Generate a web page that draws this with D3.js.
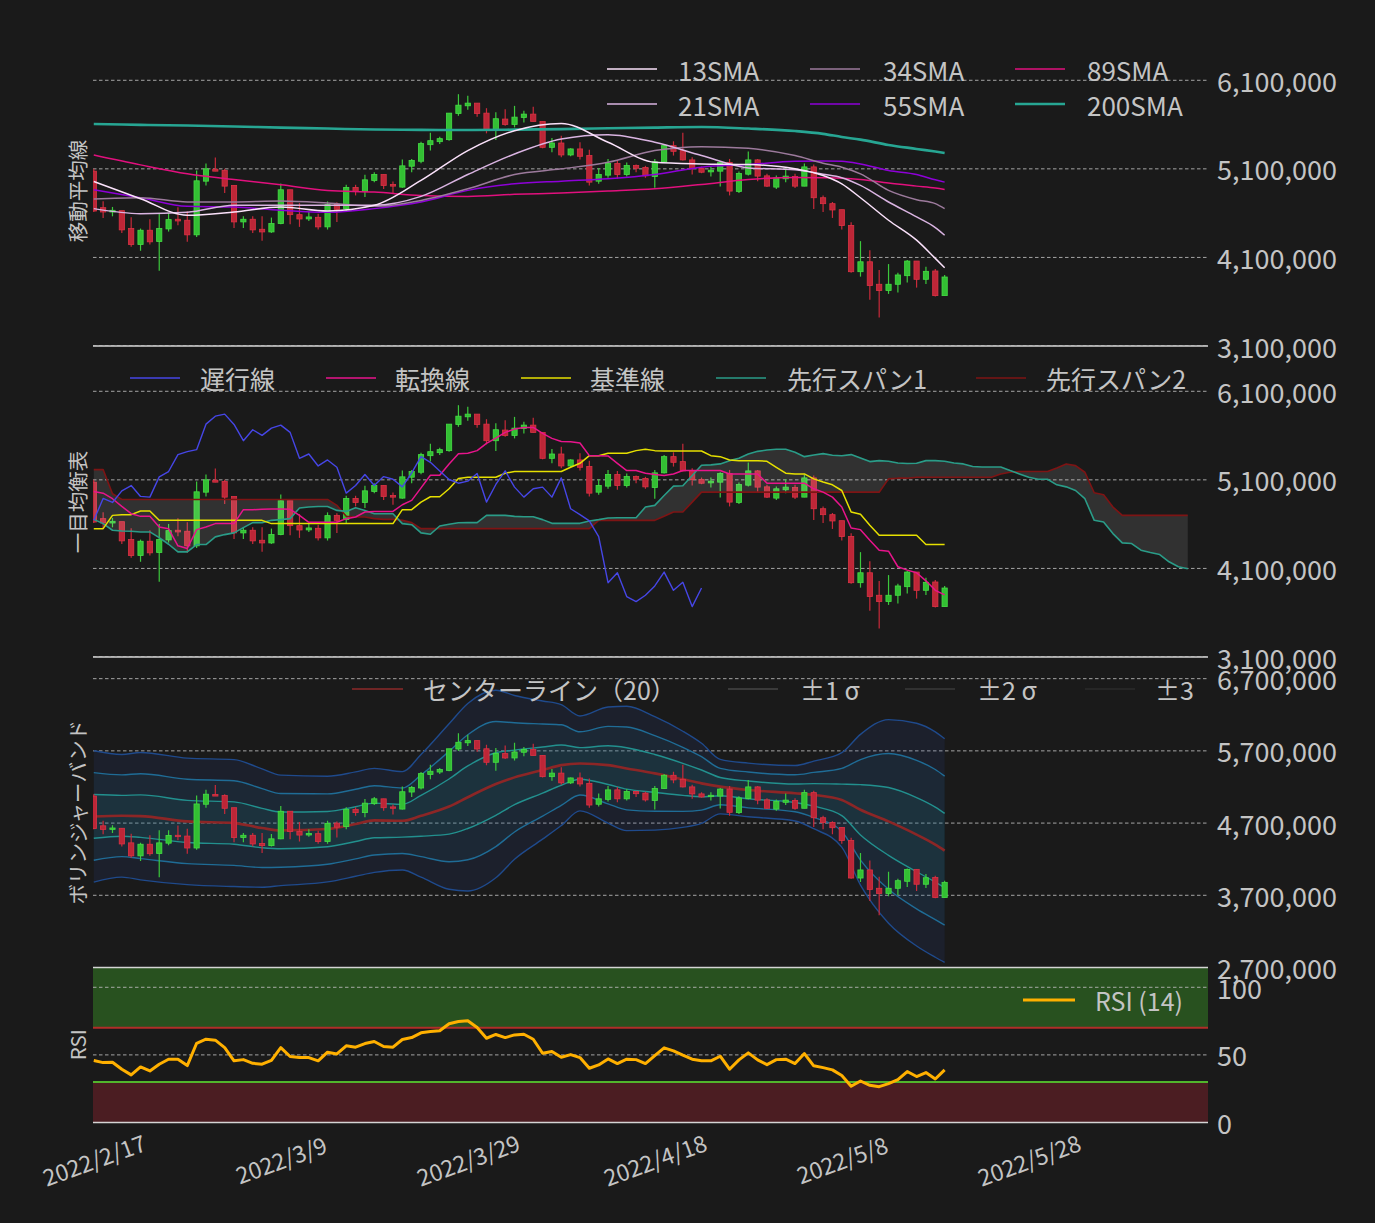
<!DOCTYPE html>
<html><head><meta charset="utf-8">
<script src="https://cdn.jsdelivr.net/npm/d3@7"></script>
<style>
html,body{margin:0;padding:0;background:#1a1a1a;}
svg{display:block;}
text{font-family:"Noto Sans CJK JP","Noto Sans",sans-serif;fill:#c4c4c4;}
</style></head><body>
<svg id="chart" width="1375" height="1223"></svg>
<script>
// ---------------- DATA (prices in thousand JPY) ----------------
const startDate = "2022/2/17";
const xTickLabels = ["2022/2/17","2022/3/9","2022/3/29","2022/4/18","2022/5/8","2022/5/28"];
const priceTicks12 = [3100,4100,5100,6100];
const priceTicks3 = [2700,3700,4700,5700,6700];
const rsiTicks = [0,50,100];

const open  = [5074,4662,4613,4628,4426,4246,4407,4280,4422,4531,4520,4355,4961,5096,5081,4913,4501,4531,4418,4388,4482,4864,4583,4535,4553,4445,4699,4651,4890,4845,4969,5036,4924,4894,5130,5186,5373,5407,5430,5726,5812,5842,5729,5542,5662,5602,5681,5718,5636,5343,5392,5257,5325,5250,4961,5029,5160,5036,5137,5115,5014,5179,5362,5306,5201,5104,5066,5074,5171,4845,5040,5201,5021,4894,4988,5014,4905,5122,4774,4707,4639,4460,3939,4051,3797,3726,3797,3894,4059,3853,3947,3669];
const high  = [5100,4733,4670,4628,4553,4426,4531,4602,4602,4666,4621,5081,5160,5227,5100,4913,4564,4564,4564,4550,4935,4864,4714,4613,4594,4733,4722,4920,4920,5033,5062,5036,4958,5205,5212,5407,5508,5463,5729,5943,5924,5842,5785,5740,5774,5811,5755,5800,5636,5448,5474,5332,5400,5317,5111,5212,5201,5171,5149,5134,5212,5381,5411,5508,5231,5126,5126,5186,5212,5070,5295,5212,5044,5025,5111,5044,5160,5149,4800,4726,4639,4497,4284,4182,3958,4025,3928,4070,4059,3995,3969,3902];
const low   = [4613,4546,4564,4377,4220,4175,4246,3950,4392,4463,4276,4332,4913,5074,4827,4433,4433,4377,4287,4377,4475,4475,4445,4512,4415,4415,4501,4613,4800,4782,4950,4872,4819,4887,5062,5164,5306,5381,5418,5699,5767,5688,5501,5426,5587,5568,5624,5636,5332,5287,5231,5242,5205,4913,4931,4999,4988,5014,5062,4999,4887,5171,5250,5194,5036,5051,5014,4901,4800,4827,5025,4961,4894,4872,4950,4883,4905,4647,4613,4546,4415,3928,3883,3621,3422,3688,3703,3816,3759,3800,3658,3669];
const close = [4624,4613,4632,4411,4246,4407,4276,4426,4527,4512,4355,4965,5100,5074,4905,4501,4531,4411,4388,4482,4864,4583,4534,4557,4445,4696,4643,4890,4845,4976,5036,4913,4905,5134,5194,5385,5418,5441,5729,5819,5842,5726,5542,5666,5602,5684,5718,5636,5343,5392,5257,5325,5242,4950,5036,5160,5036,5137,5107,5021,5179,5362,5298,5201,5104,5062,5085,5171,4849,5048,5201,5018,4905,4999,5018,4905,5122,4774,4707,4636,4460,3939,4051,3782,3726,3797,3902,4059,3853,3943,3669,3879];

// moving averages, read at these day indices
const smaIdx = [0,5,10,15,20,25,30,35,40,45,50,55,60,65,70,75,78,80,82,85,88,90,91];
const sma13  = [4958,4763,4576,4613,4669,4624,4688,4969,5306,5531,5613,5400,5175,5156,5149,5100,5025,4931,4774,4520,4295,4089,3984];
const sma21  = [4651,4594,4610,4690,4690,4688,4688,4789,5036,5268,5437,5486,5400,5250,5111,5089,5040,5000,4913,4726,4557,4437,4351];
const sma34  = [4759,4774,4726,4726,4737,4714,4677,4744,4875,5036,5100,5175,5306,5351,5332,5250,5164,5119,5044,4857,4752,4707,4651];
const sma55  = [4864,4774,4677,4669,4632,4609,4651,4726,4857,4931,4961,4988,5036,5119,5149,5186,5190,5186,5156,5081,5036,4976,4950];
const sma89  = [5257,5145,5044,4980,4920,4857,4838,4800,4789,4812,4827,4849,4875,4924,4980,5003,5000,4995,4980,4939,4905,4883,4868];
const sma200 = [5606,5597,5589,5578,5566,5555,5544,5540,5538,5543,5549,5558,5566,5572,5555,5527,5495,5460,5430,5370,5325,5295,5280];

// ichimoku
const chikouShift = 26;
const tenkan = [4969,4950,4887,4800,4718,4688,4688,4568,4549,4355,4325,4538,4568,4606,4606,4606,4763,4763,4767,4770,4770,4767,4699,4621,4621,4621,4621,4662,4681,4737,4744,4744,4744,4819,4868,5010,5152,5152,5280,5396,5400,5430,5512,5572,5636,5673,5692,5692,5624,5568,5534,5531,5516,5373,5373,5370,5287,5205,5205,5175,5160,5149,5167,5205,5205,5205,5205,5205,5167,5167,5167,5167,5063,5063,5063,5063,5063,4999,4961,4905,4793,4557,4538,4418,4306,4295,4119,4081,4051,3960,3853,3802];
const kijun = [4549,4549,4699,4707,4707,4748,4748,4643,4643,4643,4643,4643,4643,4643,4643,4643,4643,4643,4643,4606,4606,4606,4606,4606,4606,4606,4606,4606,4606,4606,4606,4606,4606,4763,4763,4849,4909,4909,4999,5115,5130,5130,5130,5130,5175,5194,5194,5194,5194,5194,5194,5242,5287,5373,5373,5400,5400,5400,5430,5445,5430,5426,5426,5426,5426,5426,5373,5362,5325,5317,5317,5317,5310,5242,5175,5167,5167,5111,5075,5044,4980,4737,4711,4587,4475,4475,4475,4475,4475,4370,4370,4370];
const senkouA = [4654,4606,4531,4523,4520,4512,4512,4448,4373,4287,4287,4370,4370,4456,4482,4501,4561,4617,4617,4643,4651,4662,4782,4793,4800,4800,4755,4744,4785,4755,4718,4718,4718,4606,4594,4501,4486,4579,4598,4615,4617,4617,4699,4699,4699,4688,4684,4684,4651,4609,4609,4609,4609,4636,4651,4669,4673,4673,4673,4793,4812,4924,5029,5033,5149,5265,5269,5280,5317,5343,5392,5422,5437,5445,5445,5411,5362,5381,5396,5377,5373,5385,5347,5306,5317,5310,5291,5284,5287,5317,5317,5310,5291,5280,5250,5246,5246,5246,5205,5167,5130,5107,5107,5044,5021,4980,4887,4643,4624,4493,4388,4381,4306,4280,4257,4175,4119,4096];
const senkouB = [5216,5216,4943,4879,4879,4879,4879,4879,4879,4879,4879,4879,4879,4879,4879,4879,4879,4879,4879,4879,4879,4879,4879,4879,4879,4879,4812,4688,4681,4681,4662,4654,4654,4643,4617,4549,4549,4549,4549,4549,4549,4549,4549,4549,4549,4549,4549,4549,4549,4549,4549,4549,4549,4549,4643,4643,4643,4643,4643,4643,4643,4688,4737,4737,4849,4961,4961,4961,4961,4961,4961,4961,4961,4961,4961,4961,4961,4961,4961,4961,4961,4961,4961,4961,4961,5111,5119,5119,5130,5130,5130,5130,5130,5130,5130,5130,5130,5167,5186,5194,5194,5194,5194,5235,5280,5261,5186,4954,4931,4793,4699,4699,4699,4699,4699,4699,4699,4699];

// bollinger (20): centre line and one sigma, read at these indices
const bbIdx   = [0,3,5,10,15,18,20,25,28,30,33,35,38,40,43,45,48,50,52,55,57,60,63,65,67,70,75,77,80,82,85,88,90,91];
const bbMid   = [4792,4801,4796,4723,4700,4631,4599,4617,4686,4737,4732,4801,4929,5058,5241,5333,5434,5503,5526,5503,5457,5388,5306,5250,5205,5159,5113,5090,5021,4884,4723,4540,4402,4319];
const bbSigma = [303,283,294,292,293,273,255,244,241,240,227,283,382,433,433,378,319,279,219,268,287,262,222,185,126,124,128,156,218,348,470,514,520,516];

// RSI (14)
const rsi = [45.8,44.3,44.6,39.4,35.2,41.1,38.1,43.1,46.8,46.8,42.1,58.6,61.6,60.9,55.4,45.6,46.5,43.8,43.1,46.0,55.4,48.8,48.0,48.0,45.6,52.0,50.7,56.7,55.7,58.4,59.9,56.2,55.7,61.4,62.8,66.3,67.3,67.8,73.0,74.7,75.2,70.2,62.3,65.1,62.8,64.8,65.3,61.6,51.2,52.5,48.3,50.2,48.0,40.1,42.6,47.0,43.6,46.8,46.5,43.6,49.5,55.2,53.0,49.8,46.8,45.6,45.6,49.0,39.4,46.3,51.5,46.3,42.8,46.5,46.8,43.6,51.0,41.9,40.6,38.9,34.7,26.8,30.7,27.5,26.5,28.8,31.7,37.7,34.0,36.9,32.2,38.9];
const rsiUpper = 70, rsiLower = 30;

// ---------------- DRAWING ----------------
const svg = d3.select("#chart");
svg.append("rect").attr("width",1375).attr("height",1223).attr("fill","#1a1a1a");

const parse = d3.utcParse("%Y/%m/%d");
const t0 = parse(startDate);
const dates = close.map((_,i)=>d3.utcDay.offset(t0,i));
const fDates = senkouA.map((_,i)=>d3.utcDay.offset(t0,i));
const X0 = 93, X1 = 1208;
const x = d3.scaleTime()
  .domain([d3.utcHour.offset(t0,-2), d3.utcHour.offset(t0,119*24+4)])
  .range([X0,X1]);
const dayW = x(dates[1]) - x(dates[0]);

const fmt = v => d3.format(",")(v*1000);
const panels = [
  {top:36,   bottom:346,    dom:[3100,6600], ticks:priceTicks12, f:fmt, title:"移動平均線"},
  {top:347,  bottom:657,    dom:[3100,6600], ticks:priceTicks12, f:fmt, title:"一目均衡表"},
  {top:657,  bottom:967.5,  dom:[2700,7000], ticks:priceTicks3,  f:fmt, title:"ボリンジャーバンド"},
  {top:967,  bottom:1122.5, dom:[0,115],     ticks:rsiTicks,     f:d3.format("d"), title:"RSI"}
];
const defs = svg.append("defs");
panels.forEach((p,k)=>{
  p.y = d3.scaleLinear().domain(p.dom).range([p.bottom,p.top]);
  defs.append("clipPath").attr("id","clip"+k).append("rect")
    .attr("x",X0).attr("y",p.top).attr("width",X1-X0).attr("height",p.bottom-p.top);
  p.g = svg.append("g").attr("clip-path",`url(#clip${k})`);
});

// RSI background bands (drawn before grid)
{
  const p = panels[3], y = p.y, g = p.g;
  g.append("rect").attr("x",X0).attr("width",X1-X0).attr("y",y(p.dom[1])).attr("height",y(rsiUpper)-y(p.dom[1])).attr("fill","#28511f");
  g.append("rect").attr("x",X0).attr("width",X1-X0).attr("y",y(rsiLower)).attr("height",y(0)-y(rsiLower)).attr("fill","#4b1d22");
}

// grid + tick labels + titles
panels.forEach(p=>{
  p.ticks.forEach(t=>{
    const yy = p.y(t);
    p.g.append("line").attr("x1",X0).attr("x2",X1).attr("y1",yy).attr("y2",yy)
      .attr("stroke","#b4b4b4").attr("stroke-width",0.9).attr("stroke-dasharray","3.5,2.5");
    svg.append("text").attr("x",1217).attr("y",yy).attr("dominant-baseline","central")
      .attr("font-size",27).text(p.f(t));
  });
  svg.append("text").attr("transform",`translate(77,${(p.top+p.bottom)/2}) rotate(-90)`)
    .attr("text-anchor","middle").attr("dominant-baseline","central").attr("font-size",20.5).text(p.title);
});

function drawCandles(g,y){
  const bw = dayW*0.56;
  close.forEach((c,i)=>{
    const up = c >= open[i];
    const cx = x(dates[i]);
    g.append("line").attr("x1",cx).attr("x2",cx).attr("y1",y(high[i])).attr("y2",y(low[i]))
      .attr("stroke", up ? "#3cc83c" : "#c82a3a").attr("stroke-width",1.2);
    const yt = y(Math.max(c,open[i])), yb = y(Math.min(c,open[i]));
    g.append("rect").attr("x",cx-bw/2).attr("y",yt).attr("width",bw).attr("height",Math.max(1,yb-yt))
      .attr("fill", up ? "#33bf33" : "#bd2637").attr("stroke", up ? "#45de45" : "#dc3345").attr("stroke-width",0.8);
  });
}
function sparseLine(g,y,idx,vals,color,w){
  g.append("path").datum(idx.map((d,j)=>[dates[d],vals[j]]))
    .attr("d",d3.line().x(d=>x(d[0])).y(d=>y(d[1])).curve(d3.curveMonotoneX))
    .attr("fill","none").attr("stroke",color).attr("stroke-width",w);
}
function fullLine(g,y,dts,vals,color,w){
  g.append("path").datum(vals.map((v,i)=>[dts[i],v]))
    .attr("d",d3.line().x(d=>x(d[0])).y(d=>y(d[1])))
    .attr("fill","none").attr("stroke",color).attr("stroke-width",w).attr("stroke-linejoin","round");
}
function legend(items,yy,fs){
  items.forEach(it=>{
    svg.append("line").attr("x1",it.x1).attr("x2",it.x2).attr("y1",yy).attr("y2",yy)
      .attr("stroke",it.c).attr("stroke-width",it.w||1.5);
    svg.append("text").attr("x",it.tx).attr("y",yy).attr("dominant-baseline","central")
      .attr("font-size",fs).text(it.t);
  });
}

// ---- Panel 1: SMA ----
const smaColors = {13:"#fbe2fb",21:"#dab4e2",34:"#9c7a9c",55:"#8e00d8",89:"#e2107e",200:"#27a693"};
{
  const p = panels[0], g = p.g, y = p.y;
  drawCandles(g,y);
  sparseLine(g,y,smaIdx,sma200,smaColors[200],2.6);
  sparseLine(g,y,smaIdx,sma89,smaColors[89],1.5);
  sparseLine(g,y,smaIdx,sma55,smaColors[55],1.5);
  sparseLine(g,y,smaIdx,sma34,smaColors[34],1.5);
  sparseLine(g,y,smaIdx,sma21,smaColors[21],1.5);
  sparseLine(g,y,smaIdx,sma13,smaColors[13],1.5);
  legend([
    {x1:607,x2:657,tx:678,t:"13SMA",c:smaColors[13]},
    {x1:810,x2:860,tx:883,t:"34SMA",c:smaColors[34]},
    {x1:1015,x2:1065,tx:1087,t:"89SMA",c:smaColors[89]}],69,26);
  legend([
    {x1:607,x2:657,tx:678,t:"21SMA",c:smaColors[21]},
    {x1:810,x2:860,tx:883,t:"55SMA",c:smaColors[55]},
    {x1:1015,x2:1065,tx:1087,t:"200SMA",c:smaColors[200],w:2.6}],104,26);
}

// ---- Panel 2: Ichimoku ----
const ichColors = {chikou:"#4646e6",tenkan:"#e8148c",kijun:"#e6e000",spanA:"#2a9c88",spanB:"#7e1414"};
{
  const p = panels[1], g = p.g, y = p.y;
  drawCandles(g,y);
  g.append("path").datum(fDates.map((d,i)=>i))
    .attr("d",d3.area().x(i=>x(fDates[i])).y0(i=>y(senkouA[i])).y1(i=>y(senkouB[i])))
    .attr("fill","rgba(255,255,255,0.10)");
  fullLine(g,y,fDates,senkouB,ichColors.spanB,1.6);
  fullLine(g,y,fDates,senkouA,ichColors.spanA,1.6);
  fullLine(g,y,dates,kijun,ichColors.kijun,1.5);
  fullLine(g,y,dates,tenkan,ichColors.tenkan,1.5);
  const chikouVals = close.slice(chikouShift);
  fullLine(g,y,dates.slice(0,chikouVals.length),chikouVals,ichColors.chikou,1.4);
  legend([
    {x1:130,x2:180,tx:200,t:"遅行線",c:ichColors.chikou},
    {x1:326,x2:376,tx:395,t:"転換線",c:ichColors.tenkan},
    {x1:521,x2:571,tx:590,t:"基準線",c:ichColors.kijun},
    {x1:716,x2:766,tx:787,t:"先行スパン1",c:ichColors.spanA},
    {x1:976,x2:1026,tx:1046,t:"先行スパン2",c:ichColors.spanB}],378,25);
}

// ---- Panel 3: Bollinger ----
{
  const p = panels[2], g = p.g, y = p.y;
  const pts = bbIdx.map((d,j)=>({d:dates[d],m:bbMid[j],s:bbSigma[j]}));
  const band = k => d3.area().x(o=>x(o.d)).y0(o=>y(o.m-k*o.s)).y1(o=>y(o.m+k*o.s)).curve(d3.curveMonotoneX);
  const bl = k => d3.line().x(o=>x(o.d)).y(o=>y(o.m+k*o.s)).curve(d3.curveMonotoneX);
  g.append("path").datum(pts).attr("d",band(3)).attr("fill","rgba(50,80,170,0.13)");
  g.append("path").datum(pts).attr("d",band(2)).attr("fill","rgba(30,120,140,0.10)");
  g.append("path").datum(pts).attr("d",band(1)).attr("fill","rgba(30,150,140,0.10)");
  [[3,"#1f4a8c"],[-3,"#1f4a8c"],[2,"#1f6c96"],[-2,"#1f6c96"],[1,"#22908e"],[-1,"#22908e"]].forEach(([k,c])=>{
    g.append("path").datum(pts).attr("d",bl(k)).attr("fill","none").attr("stroke",c).attr("stroke-width",1.4);
  });
  g.append("path").datum(pts).attr("d",bl(0)).attr("fill","none").attr("stroke","#8c2626").attr("stroke-width",2.6);
  drawCandles(g,y);
  legend([
    {x1:352,x2:403,tx:423,t:"センターライン（20）",c:"#8c2a2a"},
    {x1:728,x2:778,tx:800,t:"±1 σ",c:"#5a5a5a",w:1},
    {x1:905,x2:955,tx:977,t:"±2 σ",c:"#484848",w:1},
    {x1:1085,x2:1135,tx:1155,t:"±3",c:"#333333",w:1}],689,25);
}

// ---- Panel 4: RSI ----
{
  const p = panels[3], g = p.g, y = p.y;
  g.append("line").attr("x1",X0).attr("x2",X1).attr("y1",y(rsiUpper)).attr("y2",y(rsiUpper)).attr("stroke","#b02e28").attr("stroke-width",2);
  g.append("line").attr("x1",X0).attr("x2",X1).attr("y1",y(rsiLower)).attr("y2",y(rsiLower)).attr("stroke","#52b52c").attr("stroke-width",2);
  fullLine(g,y,dates,rsi,"#ffb000",3);
  legend([{x1:1023,x2:1075,tx:1095,t:"RSI (14)",c:"#ffb000",w:3}],1000,25);
}

// bottom axis lines
panels.forEach(p=>{
  svg.append("line").attr("x1",X0).attr("x2",X1).attr("y1",p.bottom).attr("y2",p.bottom)
    .attr("stroke","#d4d4d4").attr("stroke-width",1.5);
});

// x tick labels
xTickLabels.forEach(s=>{
  svg.append("text").attr("transform",`translate(${x(parse(s))},1159) rotate(-20)`)
    .attr("text-anchor","middle").attr("dominant-baseline","central").attr("font-size",23).text(s);
});
</script></body></html>
